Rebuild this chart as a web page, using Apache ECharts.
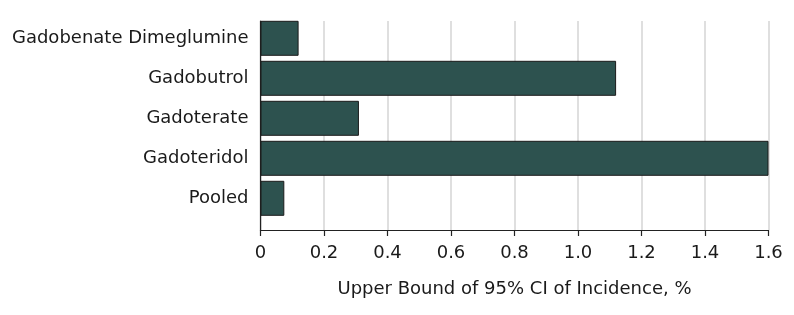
<!DOCTYPE html>
<html>
<head>
<meta charset="utf-8">
<script src="https://cdn.jsdelivr.net/npm/echarts@6/dist/echarts.min.js"></script>
<style>
html,body{margin:0;padding:0;background:#fff;}
#chart{width:794px;height:315px;}
</style>
</head>
<body>
<div id="chart"></div>
<script>
const categories = ['Gadobenate Dimeglumine', 'Gadobutrol', 'Gadoterate', 'Gadoteridol', 'Pooled'];
const upperBound = [0.12, 1.12, 0.31, 1.60, 0.075];
const tickLabels = ['0', '0.2', '0.4', '0.6', '0.8', '1.0', '1.2', '1.4', '1.6'];
const axisTitle = 'Upper Bound of 95% CI of Incidence, %';

const FONT = 'DejaVu Sans';
const chart = echarts.init(document.getElementById('chart'), null, {renderer: 'canvas'});
chart.setOption({
  animation: false,
  backgroundColor: '#fff',
  grid: [
    {left: 260.5, right: 25.5, top: 18.3, height: 200, containLabel: false},
    {left: 260.5, right: 25.5, top: 21, bottom: 85, containLabel: false}
  ],
  xAxis: [
    {gridIndex: 0, type: 'value', min: 0, max: 1.6, show: false},
    {
      gridIndex: 1, type: 'value', min: 0, max: 1.6, interval: 0.2,
      axisLine: {show: true, lineStyle: {color: '#222', width: 1.2}},
      axisTick: {show: true, length: 6, lineStyle: {color: '#222', width: 1.2}},
      axisLabel: {
        color: '#1a1a1a', fontSize: 18, fontFamily: FONT, margin: 14,
        formatter: (v) => tickLabels[Math.round(v / 0.2)]
      },
      splitLine: {show: true, lineStyle: {color: '#d4d4d4', width: 1.5}},
      name: axisTitle, nameLocation: 'middle', nameGap: 50,
      nameTextStyle: {color: '#1a1a1a', fontSize: 18, fontFamily: FONT}
    }
  ],
  yAxis: [
    {
      gridIndex: 0, type: 'category', data: categories, inverse: true,
      axisLine: {show: false}, axisTick: {show: false},
      axisLabel: {color: '#1a1a1a', fontSize: 18, fontFamily: FONT, margin: 12}
    },
    {
      gridIndex: 1, type: 'value', min: 0, max: 1,
      axisLine: {show: true, lineStyle: {color: '#222', width: 1.2}},
      axisTick: {show: false}, axisLabel: {show: false}, splitLine: {show: false}
    }
  ],
  series: [{
    type: 'bar', xAxisIndex: 0, yAxisIndex: 0,
    data: upperBound, barWidth: 35,
    itemStyle: {color: '#2d524f', borderColor: '#1b1b1b', borderWidth: 1},
    z: 3
  }]
});
</script>
</body>
</html>
